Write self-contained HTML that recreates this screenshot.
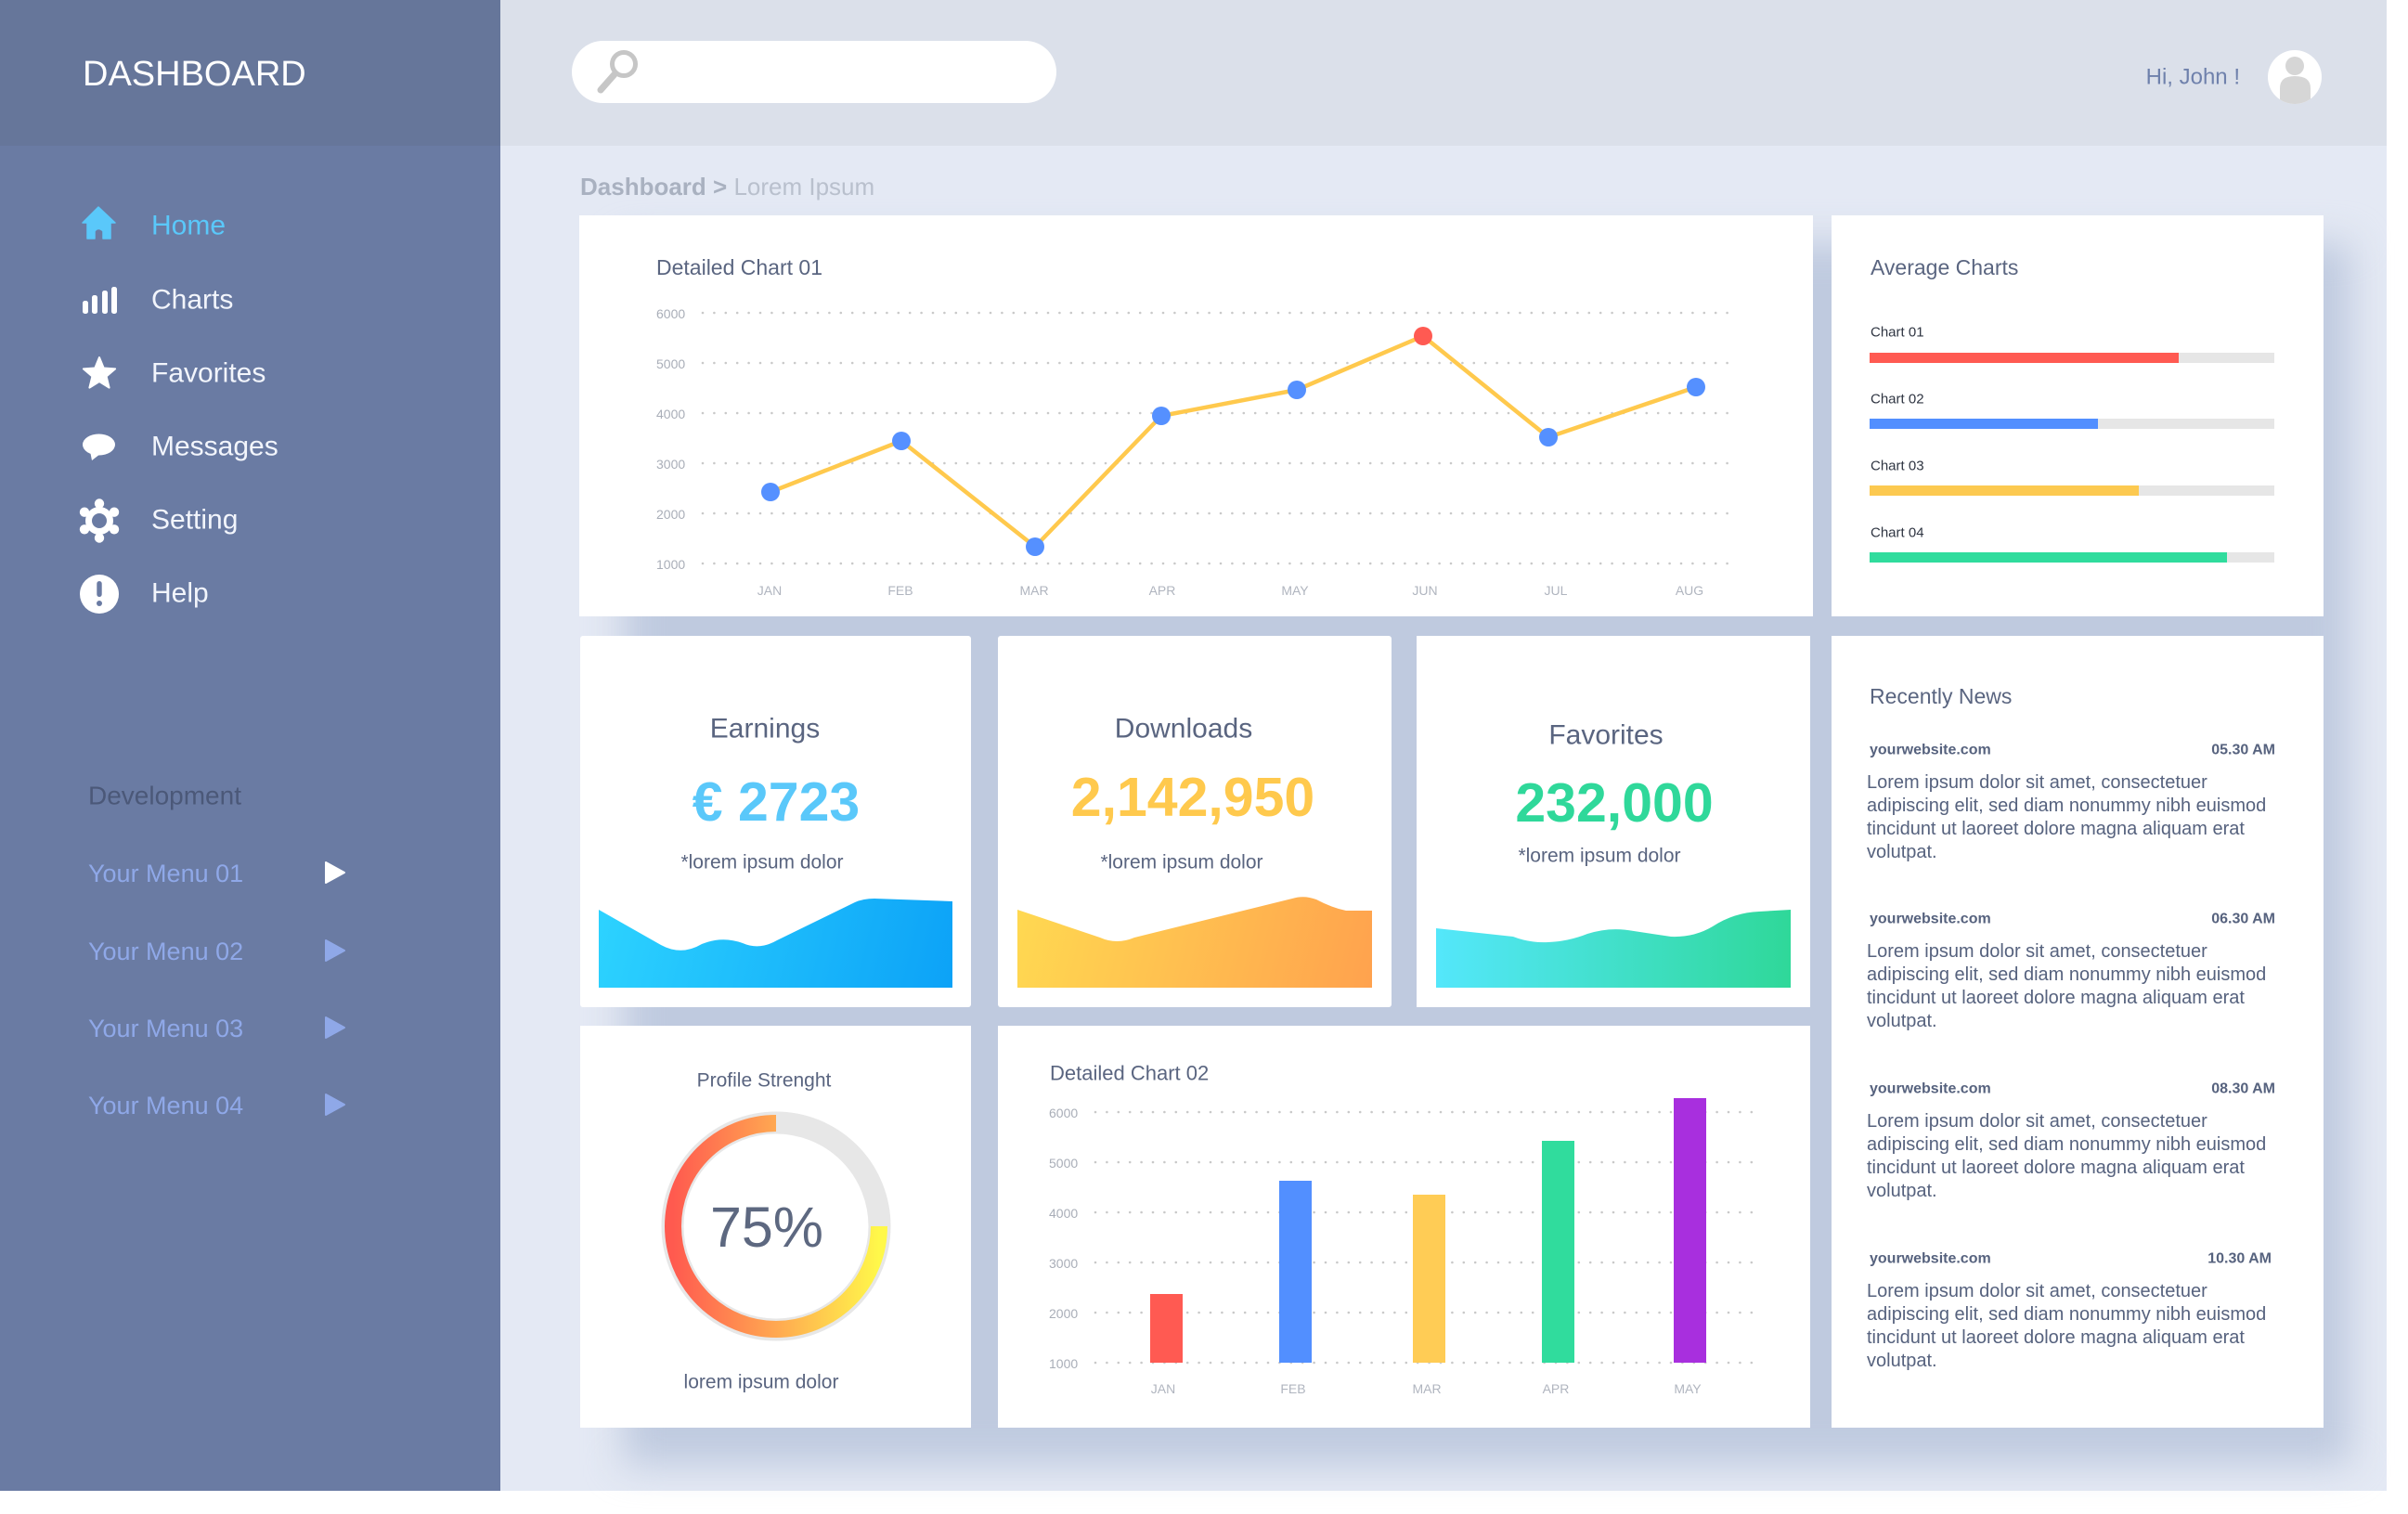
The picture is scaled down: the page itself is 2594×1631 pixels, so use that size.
<!DOCTYPE html>
<html>
<head>
<meta charset="utf-8">
<style>
  html,body{margin:0;padding:0;background:#ffffff;}
  body{width:2594px;height:1631px;position:relative;overflow:hidden;font-family:"Liberation Sans",sans-serif;}
  .abs{position:absolute;}
  .card{position:absolute;background:#ffffff;border-radius:3px;}
</style>
</head>
<body>
<!-- main background -->
<div class="abs" style="left:0;top:0;width:2571px;height:1606px;background:#e4e9f4;"></div>
<!-- header -->
<div class="abs" style="left:539px;top:0;width:2032px;height:157px;background:#dbe0ea;"></div>
<!-- sidebar -->
<div class="abs" style="left:0;top:0;width:539px;height:1606px;background:#6a7ba3;"></div>
<div class="abs" style="left:0;top:0;width:539px;height:157px;background:#66769a;"></div>

<!-- shadow backing -->
<div class="abs" style="left:672px;top:262px;width:1860px;height:1316px;background:#bfcadf;filter:blur(20px);"></div>

<!-- cards -->
<div class="card" style="left:624px;top:232px;width:1329px;height:432px;border-radius:0;"></div>
<div class="card" style="left:1973px;top:232px;width:530px;height:432px;border-radius:0;"></div>
<div class="card" style="left:625px;top:685px;width:421px;height:400px;"></div>
<div class="card" style="left:1075px;top:685px;width:424px;height:400px;"></div>
<div class="card" style="left:1526px;top:685px;width:424px;height:400px;border-radius:0;"></div>
<div class="card" style="left:1973px;top:685px;width:530px;height:853px;border-radius:0;"></div>
<div class="card" style="left:625px;top:1105px;width:421px;height:433px;border-radius:0;"></div>
<div class="card" style="left:1075px;top:1105px;width:875px;height:433px;border-radius:0;"></div>

<svg class="abs" style="left:0;top:0;" width="2594" height="1631" viewBox="0 0 2594 1631" xmlns="http://www.w3.org/2000/svg" font-family="Liberation Sans, sans-serif">
  <defs>
    <linearGradient id="gE" x1="645" y1="968" x2="1026" y2="1064" gradientUnits="userSpaceOnUse">
      <stop offset="0" stop-color="#2dd3ff"/>
      <stop offset="1" stop-color="#0ca2f7"/>
    </linearGradient>
    <linearGradient id="gD" x1="1096" y1="968" x2="1478" y2="1064" gradientUnits="userSpaceOnUse">
      <stop offset="0" stop-color="#ffd951"/>
      <stop offset="1" stop-color="#ffa24e"/>
    </linearGradient>
    <linearGradient id="gF" x1="1547" y1="1000" x2="1929" y2="1000" gradientUnits="userSpaceOnUse">
      <stop offset="0" stop-color="#54e7fb"/>
      <stop offset="1" stop-color="#2fd899"/>
    </linearGradient>
    <linearGradient id="gR" x1="725" y1="1321" x2="947" y2="1321" gradientUnits="userSpaceOnUse">
      <stop offset="0" stop-color="#ff5a4f"/>
      <stop offset="0.5" stop-color="#ffa851"/>
      <stop offset="1" stop-color="#fff84a"/>
    </linearGradient>
  </defs>

  <!-- ===== Sidebar ===== -->
  <text x="89" y="80" font-size="38" fill="#ffffff" dominant-baseline="central">DASHBOARD</text>

  <!-- Home icon -->
  <path d="M106,223 L124,240 L119,240 L119,257 L111,257 L111,249 Q106,244 102,249 L102,257 L94,257 L94,240 L89,240 Z" fill="#5ac8fa" stroke="#5ac8fa" stroke-width="1.5" stroke-linejoin="round"/>
  <text x="163" y="243" font-size="30" fill="#5ac8fa" dominant-baseline="central">Home</text>

  <!-- Charts icon -->
  <g fill="#ffffff">
    <rect x="89" y="324" width="6" height="14" rx="2.5"/>
    <rect x="99" y="318" width="6" height="20" rx="2.5"/>
    <rect x="110" y="313" width="6" height="25" rx="2.5"/>
    <rect x="120" y="309" width="6" height="29" rx="2.5"/>
  </g>
  <text x="163" y="323" font-size="30" fill="#f2f5fc" dominant-baseline="central">Charts</text>

  <!-- Star -->
  <polygon points="107,385 111.7,396.5 124.1,397.4 114.6,405.5 117.6,417.6 107,411 96.4,417.6 99.4,405.5 89.9,397.4 102.3,396.5" fill="#ffffff" stroke="#ffffff" stroke-width="2" stroke-linejoin="round"/>
  <text x="163" y="402" font-size="30" fill="#f2f5fc" dominant-baseline="central">Favorites</text>

  <!-- Messages -->
  <ellipse cx="106.5" cy="479" rx="17.5" ry="11.5" fill="#ffffff"/>
  <polygon points="97,486 99,496 108,489" fill="#ffffff"/>
  <text x="163" y="481" font-size="30" fill="#f2f5fc" dominant-baseline="central">Messages</text>

  <!-- Gear -->
  <g fill="#ffffff">
    <circle cx="107" cy="561" r="15"/>
    <circle cx="107" cy="542.5" r="5.2"/>
    <circle cx="123" cy="551.7" r="5.2"/>
    <circle cx="123" cy="570.3" r="5.2"/>
    <circle cx="107" cy="579.5" r="5.2"/>
    <circle cx="91" cy="570.3" r="5.2"/>
    <circle cx="91" cy="551.7" r="5.2"/>
  </g>
  <circle cx="107" cy="561" r="8" fill="#6a7ba3"/>
  <text x="163" y="560" font-size="30" fill="#f2f5fc" dominant-baseline="central">Setting</text>

  <!-- Help -->
  <circle cx="107" cy="640" r="21" fill="#ffffff"/>
  <rect x="104.3" y="626" width="5.4" height="17" rx="2.7" fill="#6a7ba3"/>
  <circle cx="107" cy="650" r="3" fill="#6a7ba3"/>
  <text x="163" y="639" font-size="30" fill="#f2f5fc" dominant-baseline="central">Help</text>

  <!-- Development -->
  <text x="95" y="857" font-size="28" fill="#4b5878" dominant-baseline="central">Development</text>
  <g font-size="27" fill="#8fa8e8">
    <text x="95" y="941" dominant-baseline="central">Your Menu 01</text>
    <text x="95" y="1025" dominant-baseline="central">Your Menu 02</text>
    <text x="95" y="1108" dominant-baseline="central">Your Menu 03</text>
    <text x="95" y="1191" dominant-baseline="central">Your Menu 04</text>
  </g>
  <polygon points="351,929 371,940 351,951" fill="#ffffff" stroke="#ffffff" stroke-width="2" stroke-linejoin="round"/>
  <polygon points="351,1013 371,1024 351,1035" fill="#8fa8e8" stroke="#8fa8e8" stroke-width="2" stroke-linejoin="round"/>
  <polygon points="351,1096 371,1107 351,1118" fill="#8fa8e8" stroke="#8fa8e8" stroke-width="2" stroke-linejoin="round"/>
  <polygon points="351,1179 371,1190 351,1201" fill="#8fa8e8" stroke="#8fa8e8" stroke-width="2" stroke-linejoin="round"/>

  <!-- ===== Header ===== -->
  <rect x="616" y="44" width="522" height="67" rx="33.5" fill="#ffffff"/>
  <circle cx="672" cy="69" r="12.5" fill="none" stroke="#c6c6c6" stroke-width="5"/>
  <line x1="662" y1="80" x2="647" y2="97" stroke="#c6c6c6" stroke-width="7" stroke-linecap="round"/>

  <text x="2413" y="83" font-size="24" fill="#6f81ac" text-anchor="end" dominant-baseline="central">Hi, John !</text>
  <circle cx="2472" cy="83" r="29" fill="#ffffff"/>
  <clipPath id="av"><circle cx="2472" cy="83" r="29"/></clipPath>
  <g clip-path="url(#av)" fill="#d6d6d6">
    <circle cx="2472" cy="71" r="10"/>
    <path d="M2456,115 L2456,95 Q2456,82 2472,82 Q2489,82 2489,95 L2489,115 Z"/>
  </g>

  <!-- Breadcrumb -->
  <text x="625" y="201" font-size="26" dominant-baseline="central"><tspan font-weight="bold" fill="#a9b1c0">Dashboard &gt;</tspan><tspan fill="#b9c0cd"> Lorem Ipsum</tspan></text>

  <!-- ===== Detailed Chart 01 ===== -->
  <text x="707" y="288" font-size="23" fill="#5a6580" dominant-baseline="central">Detailed Chart 01</text>
  <g stroke="#c9c9c9" stroke-width="2.6" stroke-dasharray="0 12.4" stroke-linecap="round">
    <line x1="757" y1="337" x2="1870" y2="337"/>
    <line x1="757" y1="391" x2="1870" y2="391"/>
    <line x1="757" y1="445" x2="1870" y2="445"/>
    <line x1="757" y1="499" x2="1870" y2="499"/>
    <line x1="757" y1="553" x2="1870" y2="553"/>
    <line x1="757" y1="607" x2="1870" y2="607"/>
  </g>
  <g font-size="14" fill="#a9aeb8" dominant-baseline="central">
    <text x="707" y="338">6000</text>
    <text x="707" y="392">5000</text>
    <text x="707" y="446">4000</text>
    <text x="707" y="500">3000</text>
    <text x="707" y="554">2000</text>
    <text x="707" y="608">1000</text>
  </g>
  <g font-size="14" fill="#b0b5bf" text-anchor="middle" dominant-baseline="central">
    <text x="829" y="636">JAN</text>
    <text x="970" y="636">FEB</text>
    <text x="1114" y="636">MAR</text>
    <text x="1252" y="636">APR</text>
    <text x="1395" y="636">MAY</text>
    <text x="1535" y="636">JUN</text>
    <text x="1676" y="636">JUL</text>
    <text x="1820" y="636">AUG</text>
  </g>
  <polyline points="830,530 971,475 1115,589 1251,448 1397,420 1533,362 1668,471 1827,417" fill="none" stroke="#ffc94d" stroke-width="4.5" stroke-linejoin="round"/>
  <g fill="#5590ff">
    <circle cx="830" cy="530" r="10"/>
    <circle cx="971" cy="475" r="10"/>
    <circle cx="1115" cy="589" r="10"/>
    <circle cx="1251" cy="448" r="10"/>
    <circle cx="1397" cy="420" r="10"/>
    <circle cx="1668" cy="471" r="10"/>
    <circle cx="1827" cy="417" r="10"/>
  </g>
  <circle cx="1533" cy="362" r="10" fill="#ff5a52"/>

  <!-- ===== Average Charts ===== -->
  <text x="2015" y="288" font-size="23" fill="#5a6580" dominant-baseline="central">Average Charts</text>
  <g font-size="15" fill="#2f3542" dominant-baseline="central">
    <text x="2015" y="358">Chart 01</text>
    <text x="2015" y="430">Chart 02</text>
    <text x="2015" y="502">Chart 03</text>
    <text x="2015" y="574">Chart 04</text>
  </g>
  <g fill="#e6e6e6">
    <rect x="2014" y="380" width="436" height="11"/>
    <rect x="2014" y="451" width="436" height="11"/>
    <rect x="2014" y="523" width="436" height="11"/>
    <rect x="2014" y="595" width="436" height="11"/>
  </g>
  <rect x="2014" y="380" width="333" height="11" fill="#ff5a52"/>
  <rect x="2014" y="451" width="246" height="11" fill="#528fff"/>
  <rect x="2014" y="523" width="290" height="11" fill="#fcc950"/>
  <rect x="2014" y="595" width="385" height="11" fill="#30dc9d"/>

  <!-- ===== Earnings ===== -->
  <text x="824" y="785" font-size="30" fill="#5a6580" text-anchor="middle" dominant-baseline="central">Earnings</text>
  <text x="836" y="864" font-size="59" font-weight="bold" fill="#5ac8fa" text-anchor="middle" dominant-baseline="central">€ 2723</text>
  <text x="821" y="929" font-size="21" fill="#5a6580" text-anchor="middle" dominant-baseline="central">*lorem ipsum dolor</text>
  <path d="M645,980 L712,1018 Q734,1030 756,1017 Q778,1008 800,1016 Q818,1024 837,1013 L921,972 Q930,968 942,968 L1026,971 L1026,1064 L645,1064 Z" fill="url(#gE)"/>

  <!-- ===== Downloads ===== -->
  <text x="1275" y="785" font-size="30" fill="#5a6580" text-anchor="middle" dominant-baseline="central">Downloads</text>
  <text x="1285" y="859" font-size="59" font-weight="bold" fill="#ffc94d" text-anchor="middle" dominant-baseline="central">2,142,950</text>
  <text x="1273" y="929" font-size="21" fill="#5a6580" text-anchor="middle" dominant-baseline="central">*lorem ipsum dolor</text>
  <path d="M1096,980 L1185,1010 Q1203,1018 1222,1010 L1392,968 Q1405,964 1418,969 Q1435,978 1450,981 L1478,981 L1478,1064 L1096,1064 Z" fill="url(#gD)"/>

  <!-- ===== Favorites ===== -->
  <text x="1730" y="792" font-size="30" fill="#5a6580" text-anchor="middle" dominant-baseline="central">Favorites</text>
  <text x="1739" y="865" font-size="59" font-weight="bold" fill="#2fd89a" text-anchor="middle" dominant-baseline="central">232,000</text>
  <text x="1723" y="922" font-size="21" fill="#5a6580" text-anchor="middle" dominant-baseline="central">*lorem ipsum dolor</text>
  <path d="M1547,1000 L1630,1009 Q1648,1016 1668,1015 Q1690,1014 1710,1006 Q1735,998 1760,1003 L1800,1009 Q1825,1010 1845,998 Q1868,983 1895,982 L1929,980 L1929,1064 L1547,1064 Z" fill="url(#gF)"/>

  <!-- ===== Profile Strength ===== -->
  <text x="823" y="1164" font-size="21" fill="#5a6580" text-anchor="middle" dominant-baseline="central">Profile Strenght</text>
  <circle cx="836" cy="1321" r="111.5" fill="none" stroke="#e7e7e7" stroke-width="24"/>
  <path d="M836,1210 A111 111 0 1 0 947,1321" fill="none" stroke="url(#gR)" stroke-width="18"/>
  <text x="826" y="1322" font-size="61" fill="#5d6880" text-anchor="middle" dominant-baseline="central">75%</text>
  <text x="820" y="1489" font-size="21" fill="#5a6580" text-anchor="middle" dominant-baseline="central">lorem ipsum dolor</text>

  <!-- ===== Detailed Chart 02 ===== -->
  <text x="1131" y="1156" font-size="22" fill="#5a6580" dominant-baseline="central">Detailed Chart 02</text>
  <g stroke="#c9c9c9" stroke-width="2.6" stroke-dasharray="0 12.4" stroke-linecap="round">
    <line x1="1180" y1="1198" x2="1896" y2="1198"/>
    <line x1="1180" y1="1252" x2="1896" y2="1252"/>
    <line x1="1180" y1="1306" x2="1896" y2="1306"/>
    <line x1="1180" y1="1360" x2="1896" y2="1360"/>
    <line x1="1180" y1="1414" x2="1896" y2="1414"/>
    <line x1="1180" y1="1468" x2="1896" y2="1468"/>
  </g>
  <g font-size="14" fill="#a9aeb8" dominant-baseline="central">
    <text x="1130" y="1199">6000</text>
    <text x="1130" y="1253">5000</text>
    <text x="1130" y="1307">4000</text>
    <text x="1130" y="1361">3000</text>
    <text x="1130" y="1415">2000</text>
    <text x="1130" y="1469">1000</text>
  </g>
  <rect x="1239" y="1394" width="35" height="74" fill="#ff5a52"/>
  <rect x="1378" y="1272" width="35" height="196" fill="#528fff"/>
  <rect x="1522" y="1287" width="35" height="181" fill="#ffcc55"/>
  <rect x="1661" y="1229" width="35" height="239" fill="#30dc9d"/>
  <rect x="1803" y="1183" width="35" height="285" fill="#a82fde"/>
  <g font-size="14" fill="#b0b5bf" text-anchor="middle" dominant-baseline="central">
    <text x="1253" y="1496">JAN</text>
    <text x="1393" y="1496">FEB</text>
    <text x="1537" y="1496">MAR</text>
    <text x="1676" y="1496">APR</text>
    <text x="1818" y="1496">MAY</text>
  </g>

  <!-- ===== Recently News ===== -->
  <text x="2014" y="750" font-size="23" fill="#5a6580" dominant-baseline="central">Recently News</text>
  <g fill="#56627e">
    <g font-size="16" font-weight="bold" dominant-baseline="central">
      <text x="2014" y="808">yourwebsite.com</text>
      <text x="2451" y="808" text-anchor="end">05.30 AM</text>
      <text x="2014" y="990">yourwebsite.com</text>
      <text x="2451" y="990" text-anchor="end">06.30 AM</text>
      <text x="2014" y="1173">yourwebsite.com</text>
      <text x="2451" y="1173" text-anchor="end">08.30 AM</text>
      <text x="2014" y="1356">yourwebsite.com</text>
      <text x="2447" y="1356" text-anchor="end">10.30 AM</text>
    </g>
    <g font-size="20" dominant-baseline="central">
      <text x="2011" y="843">Lorem ipsum dolor sit amet, consectetuer</text>
      <text x="2011" y="868">adipiscing elit, sed diam nonummy nibh euismod</text>
      <text x="2011" y="893">tincidunt ut laoreet dolore magna aliquam erat</text>
      <text x="2011" y="918">volutpat.</text>

      <text x="2011" y="1025">Lorem ipsum dolor sit amet, consectetuer</text>
      <text x="2011" y="1050">adipiscing elit, sed diam nonummy nibh euismod</text>
      <text x="2011" y="1075">tincidunt ut laoreet dolore magna aliquam erat</text>
      <text x="2011" y="1100">volutpat.</text>

      <text x="2011" y="1208">Lorem ipsum dolor sit amet, consectetuer</text>
      <text x="2011" y="1233">adipiscing elit, sed diam nonummy nibh euismod</text>
      <text x="2011" y="1258">tincidunt ut laoreet dolore magna aliquam erat</text>
      <text x="2011" y="1283">volutpat.</text>

      <text x="2011" y="1391">Lorem ipsum dolor sit amet, consectetuer</text>
      <text x="2011" y="1416">adipiscing elit, sed diam nonummy nibh euismod</text>
      <text x="2011" y="1441">tincidunt ut laoreet dolore magna aliquam erat</text>
      <text x="2011" y="1466">volutpat.</text>
    </g>
  </g>
</svg>
</body>
</html>
